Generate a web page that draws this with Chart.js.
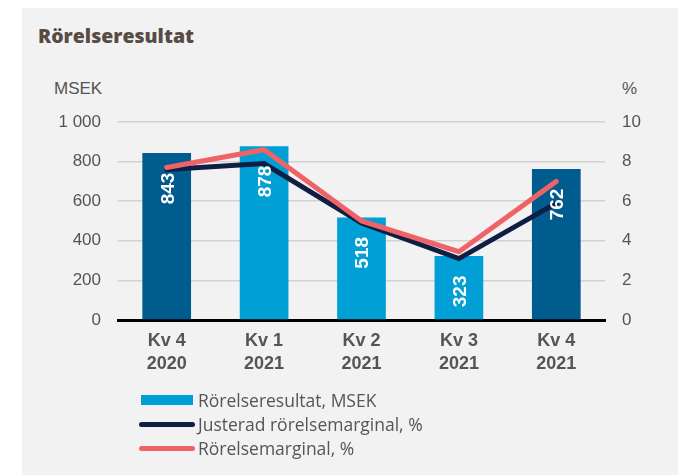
<!DOCTYPE html>
<html>
<head>
<meta charset="utf-8">
<script src="https://cdn.jsdelivr.net/npm/chart.js@4/dist/chart.umd.min.js"></script>
<style>
  html, body { margin: 0; padding: 0; background: #fff; }
  #wrap { position: relative; width: 678px; height: 475px; overflow: hidden; }
  #panel { position: absolute; left: 22px; top: 8px; right: 0; bottom: 0; background: #f2f2f2; }
  #title { position: absolute; left: 38px; top: 22px; font: 800 19.5px "Open Sans", "Liberation Sans", sans-serif; color: #574c44; }
  .unit { position: absolute; top: 79px; font: 17px "Liberation Sans", sans-serif; color: #555; }
  #chart { position: absolute; left: 0; top: 0; }
  #legend { position: absolute; left: 139px; top: 388px; font: 17.5px "Open Sans", "Liberation Sans", sans-serif; color: #555; }
  .row { height: 24px; display: flex; align-items: center; }
  .sw { width: 56px; margin-right: 3px; display: flex; justify-content: center; }
  .sw span { display: block; }
</style>
</head>
<body>
<div id="wrap">
  <div id="panel"></div>
  <div id="title">Rörelseresultat</div>
  <div class="unit" style="left:54px">MSEK</div>
  <div class="unit" style="left:622px">%</div>
  <canvas id="chart" width="678" height="475"></canvas>
  <div id="legend"></div>
</div>
<script>
var categories = [['Kv 4', '2020'], ['Kv 1', '2021'], ['Kv 2', '2021'], ['Kv 3', '2021'], ['Kv 4', '2021']];
var rorelseresultat = [843, 878, 518, 323, 762];
var justeradMarginal = [7.6, 7.9, 4.9, 3.1, 5.9];
var rorelsemarginal = [7.7, 8.6, 5.0, 3.45, 7.0];
var leftTicks = [0, 200, 400, 600, 800, 1000];
var rightTicks = [0, 2, 4, 6, 8, 10];

var darkBlue = '#005b8e';
var lightBlue = '#009fd5';
var navy = '#0f1e45';
var red = '#ef6366';
var barColors = [darkBlue, lightBlue, lightBlue, lightBlue, darkBlue];

// white rotated value labels inside the bars, on top of everything
var barLabels = {
    id: 'barLabels',
    afterDatasetsDraw: function(chart) {
        var ctx = chart.ctx;
        var meta = chart.getDatasetMeta(0);
        ctx.save();
        ctx.fillStyle = '#fff';
        ctx.font = 'bold 19px "Liberation Sans", sans-serif';
        ctx.textAlign = 'right';
        ctx.textBaseline = 'alphabetic';
        meta.data.forEach(function(bar, i) {
            ctx.save();
            ctx.translate(bar.x, bar.y + 19.5);
            ctx.rotate(-Math.PI / 2);
            ctx.fillText(String(rorelseresultat[i]), 0, 6.8);
            ctx.restore();
        });
        ctx.restore();
    }
};

new Chart(document.getElementById('chart').getContext('2d'), {
    type: 'bar',
    data: {
        labels: categories,
        datasets: [{
            label: 'Rörelseresultat, MSEK',
            data: rorelseresultat,
            backgroundColor: barColors,
            barPercentage: 0.5,
            categoryPercentage: 1,
            yAxisID: 'y',
            order: 3
        }, {
            type: 'line',
            label: 'Justerad rörelsemarginal, %',
            data: justeradMarginal,
            borderColor: navy,
            borderWidth: 5,
            borderCapStyle: 'round',
            pointRadius: 0,
            tension: 0,
            yAxisID: 'y1',
            order: 2
        }, {
            type: 'line',
            label: 'Rörelsemarginal, %',
            data: rorelsemarginal,
            borderColor: red,
            borderWidth: 5,
            borderCapStyle: 'round',
            pointRadius: 0,
            tension: 0,
            yAxisID: 'y1',
            order: 1
        }]
    },
    options: {
        responsive: false,
        animation: false,
        layout: { padding: { top: 122, left: 0, right: 0, bottom: 0 } },
        plugins: {
            legend: { display: false },
            tooltip: { enabled: false }
        },
        scales: {
            x: {
                afterFit: function(s) { s.height = 155; },
                grid: { display: false, drawTicks: false },
                border: { display: true, color: '#000', width: 3 },
                ticks: {
                    padding: 9,
                    color: '#555',
                    font: { family: '"Liberation Sans", sans-serif', size: 18, weight: 'bold', lineHeight: 1.3 }
                }
            },
            y: {
                position: 'left',
                min: 0, max: 1000,
                afterFit: function(s) { s.width = 118; },
                afterBuildTicks: function(s) { s.ticks = leftTicks.map(function(v) { return { value: v }; }); },
                grid: { color: '#d2d2d2', lineWidth: 1.5, drawTicks: false },
                border: { display: false },
                ticks: {
                    padding: 17,
                    color: '#555',
                    font: { family: '"Liberation Sans", sans-serif', size: 17 },
                    callback: function(v) { return v >= 1000 ? '1 000' : String(v); }
                }
            },
            y1: {
                position: 'right',
                min: 0, max: 10,
                afterFit: function(s) { s.width = 73; },
                afterBuildTicks: function(s) { s.ticks = rightTicks.map(function(v) { return { value: v }; }); },
                grid: { display: false, drawTicks: false },
                border: { display: false },
                ticks: {
                    padding: 17,
                    color: '#555',
                    font: { family: '"Liberation Sans", sans-serif', size: 17 }
                }
            }
        }
    },
    plugins: [barLabels]
});

// legend, built from the dataset labels
var legendItems = [
    { text: 'Rörelseresultat, MSEK', color: lightBlue, bar: true },
    { text: 'Justerad rörelsemarginal, %', color: navy },
    { text: 'Rörelsemarginal, %', color: red }
];
var legendEl = document.getElementById('legend');
legendItems.forEach(function(it) {
    var row = document.createElement('div');
    row.className = 'row';
    var sw = document.createElement('div');
    sw.className = 'sw';
    var mark = document.createElement('span');
    if (it.bar) {
        mark.style.cssText = 'width:52px;height:10px;background:' + it.color;
    } else {
        mark.style.cssText = 'width:56px;height:5px;border-radius:3px;background:' + it.color;
    }
    sw.appendChild(mark);
    row.appendChild(sw);
    var t = document.createElement('span');
    t.textContent = it.text;
    row.appendChild(t);
    legendEl.appendChild(row);
});
</script>
</body>
</html>
